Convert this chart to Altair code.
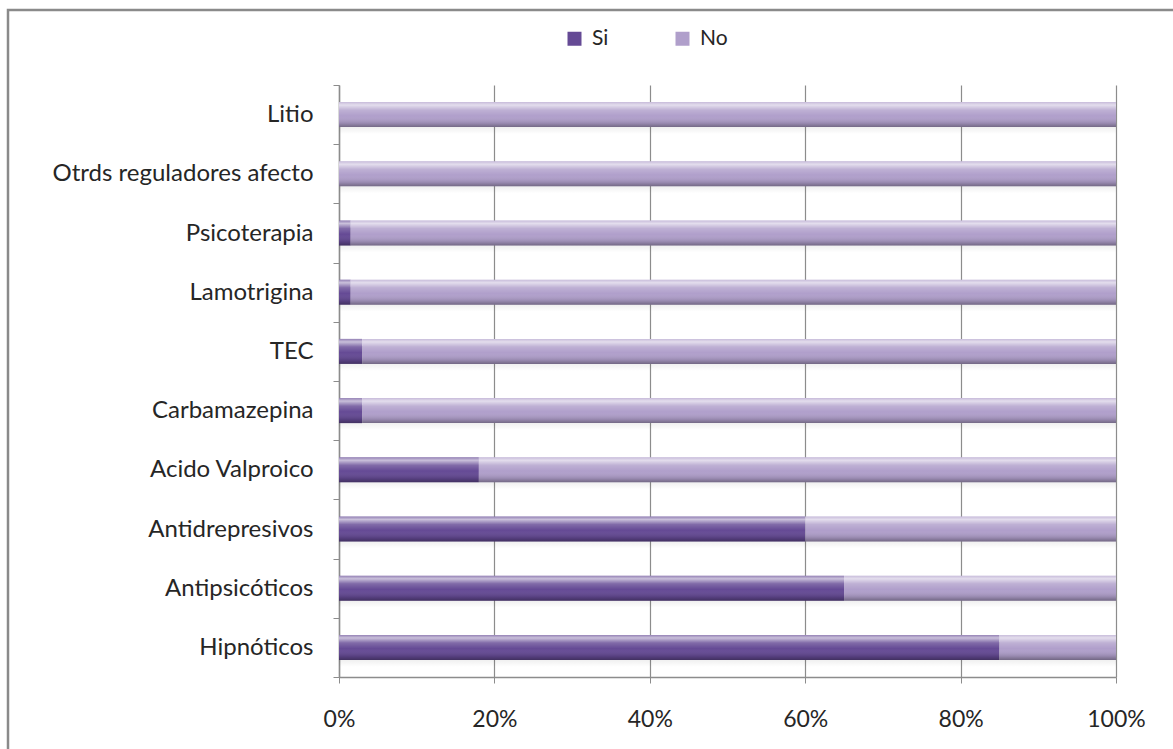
import altair as alt
import pandas as pd

# Treatment categories, listed top to bottom
tratamientos = [
    "Litio",
    "Otrds reguladores afecto",
    "Psicoterapia",
    "Lamotrigina",
    "TEC",
    "Carbamazepina",
    "Acido Valproico",
    "Antidrepresivos",
    "Antipsicóticos",
    "Hipnóticos",
]
# Share of patients (%) per answer
si_pct = [0, 0, 1.5, 1.5, 3, 3, 18, 60, 65, 85]
no_pct = [100, 100, 98.5, 98.5, 97, 97, 82, 40, 35, 15]
series = ["Si", "No"]
ticks_x = [0, 20, 40, 60, 80, 100]

# Build stacked segments (start/end of each piece of the 100% bar)
rows = []
for t, s, n in zip(tratamientos, si_pct, no_pct):
    rows.append({"Tratamiento": t, "Respuesta": "Si", "inicio": 0, "fin": s, "orden": 0})
    rows.append({"Tratamiento": t, "Respuesta": "No", "inicio": s, "fin": s + n, "orden": 1})
df = pd.DataFrame(rows)

FONT = "Lato"
GRID = "#8c8c8c"
TXT = "#262626"

y_enc = alt.Y(
    "Tratamiento:N",
    sort=tratamientos,
    scale=alt.Scale(paddingInner=0, paddingOuter=0),
    axis=alt.Axis(
        title=None,
        tickBand="extent",
        tickSize=6,
        tickColor=GRID,
        domainColor=GRID,
        domainWidth=1.5,
        labelFont=FONT,
        labelFontSize=24,
        labelColor=TXT,
        labelPadding=20,
        labelLimit=400,
        grid=False,
    ),
)
x_enc = alt.X(
    "inicio:Q",
    scale=alt.Scale(domain=[0, 100], nice=False),
    axis=alt.Axis(
        title=None,
        values=ticks_x,
        labelExpr="datum.value + '%'",
        labelFlush=False,
        tickSize=6,
        tickColor=GRID,
        domainColor=GRID,
        domainWidth=1.5,
        grid=True,
        gridColor=GRID,
        gridWidth=1.2,
        labelFont=FONT,
        labelFontSize=23,
        labelColor=TXT,
        labelPadding=25,
    ),
)

base = alt.Chart(df)

# soft drop shadow under each full bar
sombra = base.transform_filter(alt.datum.Respuesta == "No").transform_calculate(
    cero="0"
).mark_bar(
    size=25,
    yOffset=7,
    fill={
        "gradient": "linear",
        "x1": 0, "y1": 0, "x2": 0, "y2": 1,
        "stops": [
            {"offset": 0, "color": "rgba(0,0,0,0.22)"},
            {"offset": 1, "color": "rgba(0,0,0,0)"},
        ],
    },
).encode(y=y_enc, x=alt.X("cero:Q"), x2="fin:Q")

barras = base.mark_bar(size=25).encode(
    y=y_enc,
    x=x_enc,
    x2="fin:Q",
    color=alt.Color(
        "Respuesta:N",
        scale=alt.Scale(domain=series, range=["#654a95", "#b09fcb"]),
        legend=alt.Legend(
            title=None,
            orient="none",
            direction="horizontal",
            legendX=225,
            legendY=-57,
            symbolType="square",
            symbolSize=196,
            symbolStrokeWidth=0,
            labelFont=FONT,
            labelFontSize=21,
            labelColor=TXT,
            labelOffset=7,
            columnPadding=63,
        ),
    ),
    order=alt.Order("orden:Q"),
)

# glossy bevel highlight over every segment
brillo = base.mark_bar(
    size=25,
    fill={
        "gradient": "linear",
        "x1": 0, "y1": 0, "x2": 0, "y2": 1,
        "stops": [
            {"offset": 0, "color": "rgba(255,255,255,0.3)"},
            {"offset": 0.12, "color": "rgba(255,255,255,0.65)"},
            {"offset": 0.32, "color": "rgba(255,255,255,0.18)"},
            {"offset": 0.55, "color": "rgba(255,255,255,0)"},
            {"offset": 0.85, "color": "rgba(0,0,0,0.14)"},
            {"offset": 1, "color": "rgba(0,0,0,0.35)"},
        ],
    },
).encode(y=y_enc, x="inicio:Q", x2="fin:Q")

# outer chart frame
marco = alt.Chart(pd.DataFrame({"k": [0]})).mark_rect(
    filled=False, color="#8a8a8a", strokeWidth=2.5
).encode(
    x=alt.value(-331), x2=alt.value(900), y=alt.value(-75), y2=alt.value(720)
)

chart = (
    alt.layer(marco, sombra, barras, brillo)
    .properties(
        width=777,
        height=592,
        autosize=alt.AutoSizeParams(type="none"),
        padding={"left": 339, "top": 85, "right": 57, "bottom": 72},
        background="white",
    )
    .configure_view(stroke="transparent")
)

chart.save("out.html", embed_options={"renderer": "svg", "actions": False})
